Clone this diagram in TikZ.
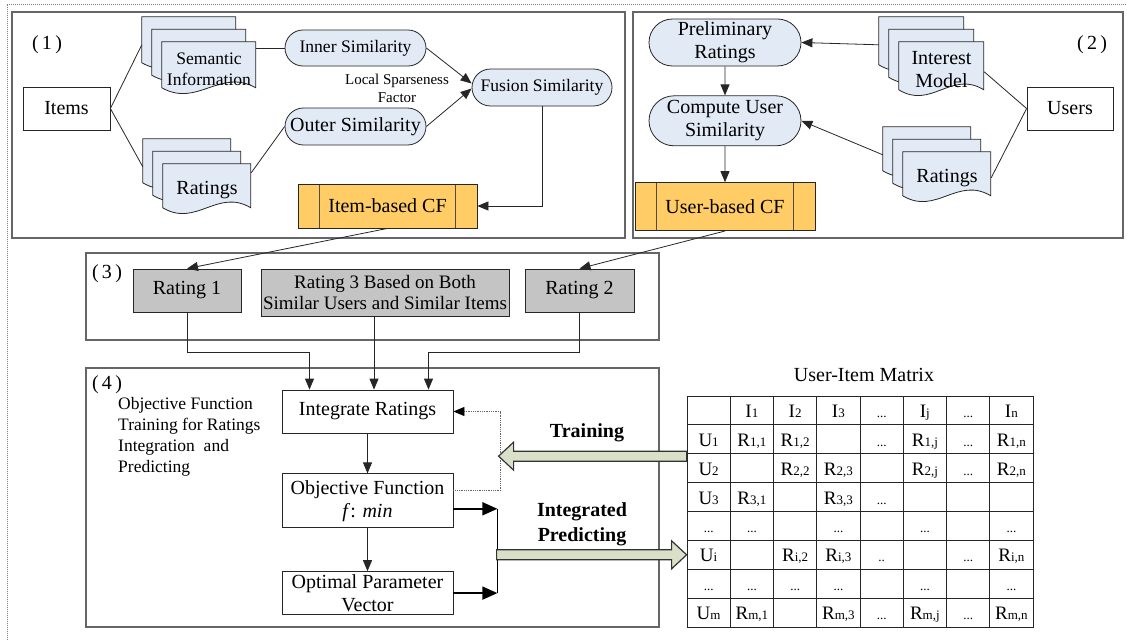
\documentclass[tikz,border=0pt]{standalone}
\usepackage{fontspec}
\setmainfont{Liberation Serif}
\usepackage{tikz}
\usetikzlibrary{shapes.misc,arrows.meta,positioning,calc,backgrounds}

\definecolor{docblue}{RGB}{226,234,246}
\definecolor{cforange}{RGB}{255,204,102}
\definecolor{rategray}{RGB}{196,196,196}
\definecolor{arrowgreen}{RGB}{218,224,200}

\newcommand\ix[1]{{\fontsize{13}{13}\selectfont #1}}
\newcommand\elp{\ix{...}}
\newcommand\docstack[3]{%
	\begin{scope}[on background layer]
		\foreach \st in {2,1,0}
			\draw[docpaper,shift={($(#1.north west)+(-10*\st,-12.5*\st)$)}]
				(0,0) -- (#2,0) -- (#2,#3) .. controls (0.62*#2,#3-20) and (0.38*#2,#3+20) .. (0,#3) -- cycle;
	\end{scope}
	\coordinate (#1-b) at ($(#1.north west)+(-20,3)$);
}

\begin{document}
\begin{tikzpicture}[x=1pt,y=-1pt,
	frame/.style={draw=black!60,line width=1.1pt},
	plain/.style={draw=black!85,line width=0.8pt,fill=white,font=\fontsize{20}{23}\selectfont,align=center,inner sep=2pt},
	pill/.style={rounded rectangle,draw=black!85,line width=0.8pt,fill=docblue,font=\fontsize{20}{23}\selectfont,align=center,inner sep=2pt},
	rate/.style={plain,fill=rategray},
	cfbox/.style={plain,fill=cforange,path picture={
		\draw[line width=0.8pt,black!70] ([xshift=21.5pt]path picture bounding box.north west) -- ([xshift=21.5pt]path picture bounding box.south west)
			([xshift=-21.5pt]path picture bounding box.north east) -- ([xshift=-21.5pt]path picture bounding box.south east);}},
	doctext/.style={font=\fontsize{20}{23}\selectfont,align=center,inner sep=0pt},
	docpaper/.style={draw=black!85,line width=0.8pt,fill=docblue},
	tag/.style={font=\fontsize{20}{23}\selectfont},
	ln/.style={draw=black!85,line width=0.8pt},
	arr/.style={ln,-{Triangle[length=11pt,width=9pt]}},
	fatarr/.style={draw=black,line width=1.6pt,-{Triangle[length=15pt,width=13pt]}},
	fbk/.style={draw=black!60,densely dotted,line width=0.8pt,-{Triangle[length=11pt,width=9pt,color=black]}},
	bigarrow/.style={draw=black!80,line width=1.2pt,fill=arrowgreen,line join=miter},
	cell/.style={draw=black!85,line width=0.8pt,minimum width=43.25pt,minimum height=28.875pt,inner sep=0pt,text height=17pt,text depth=3pt,font=\fontsize{19}{19}\selectfont}
	]
	\useasboundingbox (0,0) rectangle (1127,640);
	\draw[densely dotted,black!50,line width=1pt] (7,640) -- (7,4) -- (1127,4);
	\draw[frame] (12,12) rectangle (625,238);
	\draw[frame] (633,12) rectangle (1123,238);
	\draw[frame] (86,253) rectangle (659,340);
	\draw[frame] (86,368) rectangle (659,627);

	\node[tag] (t1) at (47,45) {(\,1\,)};
	\node[tag] (t2) at (1092,45) {(\,2\,)};
	\node[tag] (t3) at (107,274) {(\,3\,)};
	\node[tag] (t4) at (107,385) {(\,4\,)};

	\node[plain,minimum width=87pt,minimum height=43pt] (items) at (66.5,108.5) {Items};
	\node[doctext,font=\fontsize{17.6}{21}\selectfont,minimum width=94pt,minimum height=54pt] (sem) at (209,69) {Semantic\\Information};
	\docstack{sem}{94}{46}
	\node[doctext,minimum width=88pt,minimum height=52pt] (rat1) at (207,190) {Ratings};
	\docstack{rat1}{88}{44}
	\node[pill,font=\fontsize{17.6}{20}\selectfont,minimum width=145pt,minimum height=36pt] (inner) at (355.5,48) {Inner Similarity};
	\node[pill,minimum width=145pt,minimum height=37pt] (outer) at (355.5,126.5) {Outer Similarity};
	\node[pill,font=\fontsize{17.6}{20}\selectfont,minimum width=144pt,minimum height=37pt] (fus) at (542,87.5) {Fusion Similarity};
	\node[font=\fontsize{15}{18}\selectfont,align=center] (lsf) at (397,88) {Local Sparseness\\Factor};
	\node[cfbox,minimum width=179pt,minimum height=44pt] (icf) at (387.5,206) {Item-based CF};

	\node[pill,minimum width=156pt,minimum height=47pt] (prelim) at (725,42.5) {Preliminary\\Ratings};
	\node[pill,minimum width=156pt,minimum height=50pt,below=29pt of prelim] (comp) {Compute User\\Similarity};
	\node[cfbox,minimum width=180pt,minimum height=48pt,below=36pt of comp] (ucf) {User-based CF};
	\node[doctext,minimum width=85pt,minimum height=56pt] (int) at (941.5,70) {Interest\\Model};
	\docstack{int}{85}{48}
	\node[doctext,minimum width=88pt,minimum height=52pt] (rat2) at (947,178) {Ratings};
	\docstack{rat2}{88}{44}
	\node[plain,minimum width=86pt,minimum height=43pt] (users) at (1070,108.5) {Users};

	\node[rate,minimum width=108pt,minimum height=43pt] (r1) at (187,290.5) {Rating 1};
	\node[rate,font=\fontsize{19}{21}\selectfont,minimum width=245pt,minimum height=47pt] (r3) at (385,292.5) {Rating 3 Based on Both\\Similar Users and Similar Items};
	\node[rate,minimum width=109pt,minimum height=43pt] (r2) at (579.5,290.5) {Rating 2};

	\node[plain,minimum width=171pt,minimum height=43pt] (ir) at (367.5,411.5) {Integrate Ratings};
	\node[plain,minimum width=171pt,minimum height=54pt,below=40pt of ir] (objf) {Objective Function\\\textit{f}: \textit{min}};
	\node[plain,minimum width=171pt,minimum height=43pt,below=43pt of objf] (opt) {Optimal Parameter\\Vector};
	\node[font=\fontsize{17.5}{21}\selectfont,align=left,anchor=north west,inner sep=0pt] (note) at (118,397) {Objective Function\\Training for Ratings\\Integration\ \ and\\Predicting};

	\draw[ln] (items.east) -- (sem-b);
	\draw[ln] (items.east) -- (rat1-b);
	\draw[ln] (inner.west) -- (inner.west -| sem.east);
	\draw[ln] ([yshift=-9pt]rat1.north east) -- (outer.west);
	\draw[arr] (inner.east) -- ([yshift=4pt]fus.west);
	\draw[arr] (outer.east) -- ([yshift=-1pt]fus.west);
	\draw[arr] (fus.south) |- (icf.east);

	\draw[arr] (int-b) -- (prelim.east);
	\draw[arr] (rat2-b) -- (comp.east);
	\draw[arr] (prelim) -- (comp);
	\draw[arr] (comp) -- (ucf);
	\draw[ln] (users.west) -- ([yshift=-30pt]int.north east);
	\draw[ln] (users.west) -- ([yshift=-26pt]rat2.north east);

	\draw[arr] (icf.south) -- (r1.north);
	\draw[arr] (ucf.south) -- (r2.north);
	\draw[arr] (r1.south) -- ++(0,40) -| ([xshift=-58pt]ir.north);
	\draw[arr] ([xshift=-11pt]r3.south) -- ([xshift=-11pt]r3.south |- ir.north);
	\draw[arr] (r2.south) -- ++(0,40) -| ([xshift=61pt]ir.north);

	\draw[arr] (ir) -- (objf);
	\draw[arr] (objf) -- (opt);
	\draw[fbk] ([yshift=10pt]objf.east) -- ++(47,0) |- (ir.east);
	\coordinate (jt) at ($(objf.east)+(44,8)$);
	\coordinate (jb) at ($(opt.east)+(44,0)$);
	\draw[black,line width=1.6pt] (jt) -- (jb);
	\draw[fatarr] ([yshift=-8pt]objf.east) -- (jt);
	\draw[fatarr] (opt.east) -- (jb);

	\node[font=\fontsize{20}{23}\selectfont] (mtitle) at (864,375) {User-Item Matrix};
	\foreach \line [count=\r] in {
		{{},I\ix1,I\ix2,I\ix3,\elp,I\ix{j},\elp,I\ix{n}},
		{U\ix1,R\ix{1,1},R\ix{1,2},{},\elp,R\ix{1,j},\elp,R\ix{1,n}},
		{U\ix2,{},R\ix{2,2},R\ix{2,3},{},R\ix{2,j},\elp,R\ix{2,n}},
		{U\ix3,R\ix{3,1},{},R\ix{3,3},\elp,{},{},{}},
		{\elp,\elp,{},\elp,{},\elp,{},\elp},
		{U\ix{i},{},R\ix{i,2},R\ix{i,3},\ix{..},{},\elp,R\ix{i,n}},
		{\elp,\elp,\elp,\elp,{},\elp,{},\elp},
		{U\ix{m},R\ix{m,1},{},R\ix{m,3},\elp,R\ix{m,j},\elp,R\ix{m,n}}}
		\foreach \cell [count=\c] in \line
			\node[cell] (m-\r-\c) at (687+43.25*\c-21.625,396+28.875*\r-14.4375) {\cell};

	\coordinate (trn) at ([yshift=-2pt]m-2-1.south west);
	\coordinate (prd) at (m-6-1.west);
	\draw[bigarrow] ([yshift=5pt]trn) -- ++(-173,0) -- ++(0,-9) -- ++(-15,14) -- ++(15,14) -- ++(0,-9) -- ++(173,0) -- cycle;
	\draw[bigarrow] (prd) -- ++(-15,-14) -- ++(0,9) -- ++(-175,0) -- ++(0,10) -- ++(175,0) -- ++(0,9) -- cycle;
	\node[font=\bfseries\fontsize{20}{25}\selectfont] (trl) at (587,433) {Training};
	\node[font=\bfseries\fontsize{20}{25}\selectfont,align=center] (ipl) at (582,524) {Integrated\\Predicting};
\end{tikzpicture}
\end{document}
